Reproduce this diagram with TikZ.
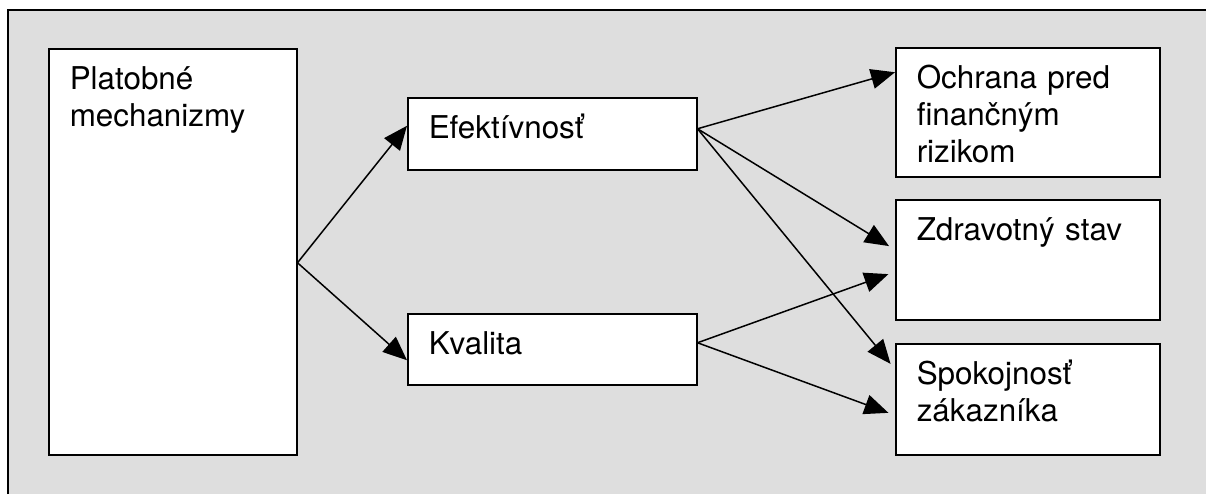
\documentclass[tikz,border=0pt]{standalone}
\usepackage{fontspec}
\setmainfont{TeX Gyre Heros}
\usetikzlibrary{arrows.meta}
\definecolor{pozadie}{HTML}{DEDEDE}

\begin{document}
\begin{tikzpicture}[x=0.5pt, y=-0.5pt, line width=0.75pt]
    \tikzstyle{blok} = [draw, fill=white, anchor=north west, inner xsep=10.5pt, inner ysep=0pt, text height=20.5pt, align=left, font=\fontsize{15.7pt}{18.5pt}\selectfont]
    \tikzstyle{sipka} = [-{Triangle[length=12pt, width=10pt]}]

    % Background frame
    \useasboundingbox (0,0) rectangle (1206,494);
    \fill[pozadie] (8,10) rectangle (1206,494);
    \draw (8,494) |- (1206,10);

    % Left column
    \node[blok, text width=103pt, text depth=182.5pt] (platobne) at (48,48) {Platobné\\mechanizmy};

    % Middle column
    \node[blok, text width=123.5pt, text depth=15.5pt] (efektivnost) at (407,97) {Efektívnosť};
    \node[blok, text width=123.5pt, text depth=15pt] (kvalita) at (407,313) {Kvalita};

    % Right column
    \node[blok, text width=111pt, text depth=44pt] (ochrana) at (895,47) {Ochrana pred\\finančným\\rizikom};
    \node[blok, text width=111pt, text depth=39.5pt] (zdravie) at (895,199) {Zdravotný stav};
    \node[blok, text width=111pt, text depth=35pt] (spokojnost) at (895,343) {Spokojnosť\\zákazníka};

    % Arrows
    \draw[sipka] ([yshift=-5.5pt]platobne.east) -- ([yshift=4pt]efektivnost.west);
    \draw[sipka] ([yshift=-5.5pt]platobne.east) -- ([yshift=-5.5pt]kvalita.west);
    \draw[sipka] ([yshift=2.5pt]efektivnost.east) -- ([yshift=20pt]ochrana.west);
    \draw[sipka, shorten >=3.5pt] ([yshift=2.5pt]efektivnost.east) -- ([yshift=5pt]zdravie.west);
    \draw[sipka, shorten >=3.5pt] ([yshift=2.5pt]efektivnost.east) -- ([yshift=15pt]spokojnost.west);
    \draw[sipka, shorten >=3.5pt] ([yshift=3.25pt]kvalita.east) -- ([yshift=-6pt]zdravie.west);
    \draw[sipka, shorten >=3.5pt] ([yshift=3.25pt]kvalita.east) -- ([yshift=-8pt]spokojnost.west);
\end{tikzpicture}
\end{document}
